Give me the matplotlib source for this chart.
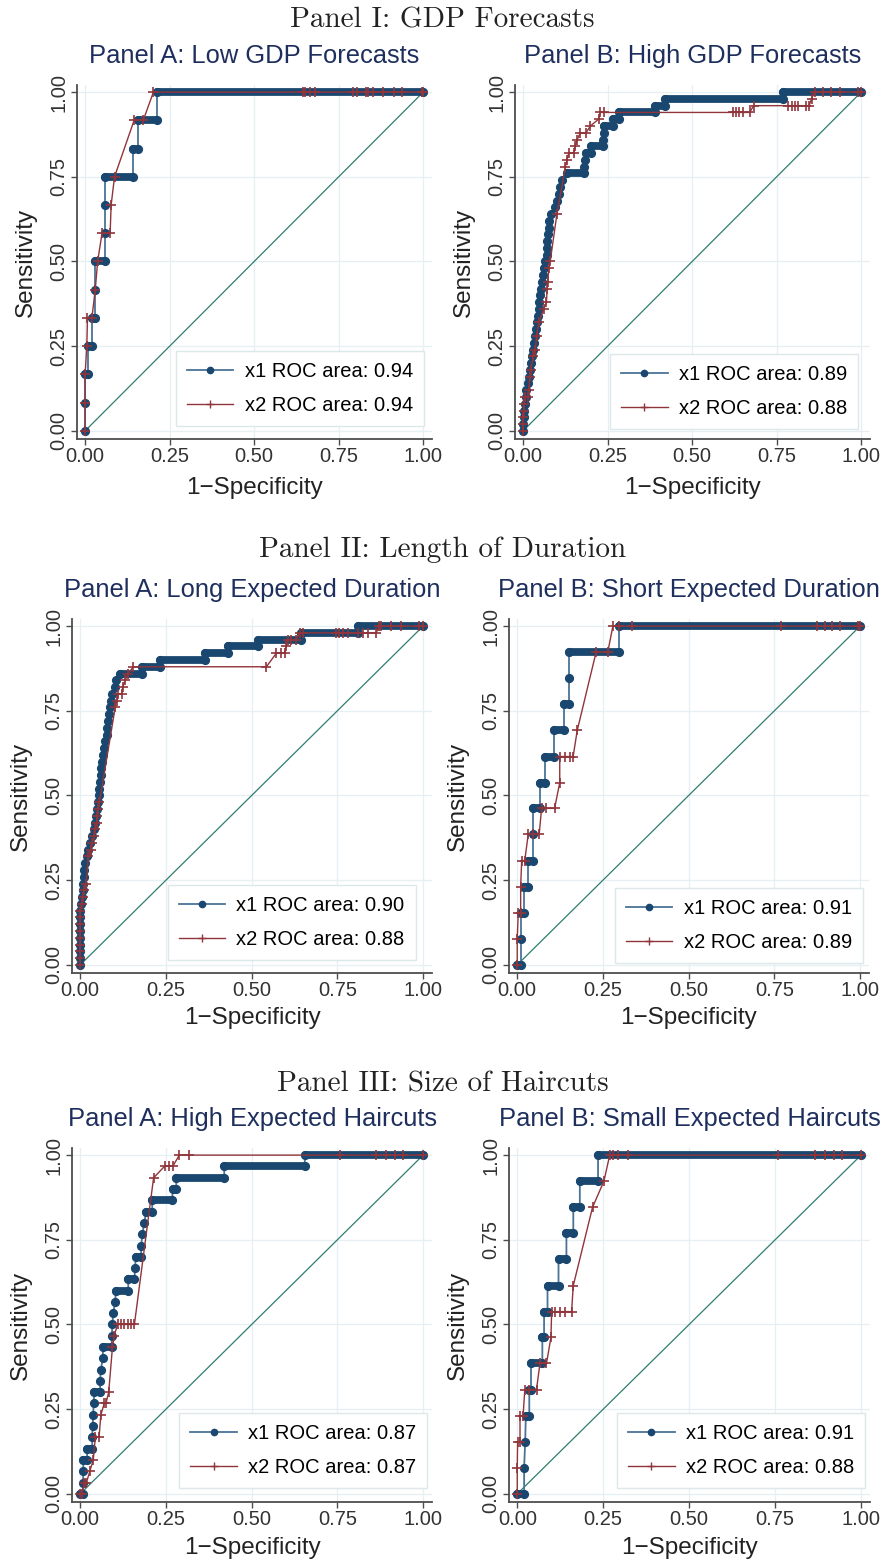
import matplotlib
matplotlib.use("Agg")
import matplotlib.pyplot as plt
from matplotlib.lines import Line2D

NAVY = '#1a476f'
NAVY_LINE = '#4a7396'
MAROON = '#90353b'
REF_C = '#2f7d70'
GRID_C = '#e6eff1'
TITLE_C = '#1e2f5e'
SANS = 'Liberation Sans'

# ---- data (1-specificity, sensitivity) ----
# Panel I A: low GDP forecasts
gdp_low_x1_fpr = [0, 0, 0, 0.008, 0.008, 0.02, 0.02, 0.028, 0.028, 0.028, 0.06, 0.06, 0.06, 0.06,
                  0.142, 0.142, 0.155, 0.155, 0.213, 0.213, 1.0]
gdp_low_x1_tpr = [0, 0.083, 0.167, 0.167, 0.25, 0.25, 0.333, 0.333, 0.417, 0.5, 0.5, 0.583, 0.667, 0.75,
                  0.75, 0.833, 0.833, 0.917, 0.917, 1.0, 1.0]
gdp_low_x2_fpr = [0, 0, 0, 0.005, 0.007, 0.02, 0.03, 0.037, 0.05, 0.074, 0.077, 0.087, 0.145, 0.172, 0.202,
                  0.645, 0.65, 0.665, 0.68, 0.793, 0.803, 0.832, 0.837, 0.852, 0.88, 0.914, 0.936, 0.995, 1.0]
gdp_low_x2_tpr = [0, 0.083, 0.167, 0.25, 0.333, 0.333, 0.417, 0.5, 0.583, 0.583, 0.667, 0.75, 0.917, 0.917, 1.0,
                  1, 1, 1, 1, 1, 1, 1, 1, 1, 1, 1, 1, 1, 1]

# Panel I B: high GDP forecasts
gdp_high_x1_fpr = [0, 0, 0.002, 0.003, 0.006, 0.008, 0.01, 0.013, 0.016, 0.02, 0.022, 0.026, 0.028, 0.031,
                   0.034, 0.038, 0.04, 0.044, 0.046, 0.048, 0.05, 0.053, 0.056, 0.058, 0.061, 0.066, 0.07,
                   0.071, 0.072, 0.073, 0.076, 0.078, 0.082, 0.093, 0.1, 0.105, 0.11, 0.116, 0.13, 0.18,
                   0.18, 0.182, 0.185, 0.2, 0.2, 0.235, 0.237, 0.24, 0.24, 0.265, 0.265, 0.285, 0.285,
                   0.39, 0.39, 0.42, 0.42, 0.77, 0.77, 1.0]
gdp_high_x1_tpr = [0, 0.02, 0.04, 0.06, 0.08, 0.1, 0.12, 0.14, 0.16, 0.18, 0.2, 0.22, 0.24, 0.26,
                   0.28, 0.3, 0.32, 0.34, 0.36, 0.38, 0.4, 0.42, 0.44, 0.46, 0.48, 0.5, 0.52,
                   0.54, 0.56, 0.58, 0.6, 0.62, 0.64, 0.66, 0.68, 0.7, 0.72, 0.74, 0.76, 0.76,
                   0.78, 0.8, 0.82, 0.82, 0.84, 0.84, 0.86, 0.88, 0.9, 0.9, 0.92, 0.92, 0.94,
                   0.94, 0.96, 0.96, 0.98, 0.98, 1.0, 1.0]
gdp_high_x2_fpr = [0, 0, 0, 0.002, 0.003, 0.006, 0.014, 0.016, 0.02, 0.022, 0.03, 0.036, 0.04, 0.046,
                   0.061, 0.069, 0.071, 0.073, 0.076, 0.08, 0.1, 0.125, 0.13, 0.135, 0.15, 0.154, 0.16,
                   0.169, 0.186, 0.199, 0.223, 0.228, 0.238, 0.621, 0.63, 0.64, 0.65, 0.67, 0.682,
                   0.784, 0.795, 0.805, 0.813, 0.838, 0.846, 0.853, 0.862, 0.887, 0.911, 0.936, 0.99, 1.0]
gdp_high_x2_tpr = [0, 0.02, 0.04, 0.06, 0.08, 0.1, 0.1, 0.12, 0.16, 0.18, 0.22, 0.24, 0.28, 0.32,
                   0.36, 0.38, 0.42, 0.44, 0.48, 0.5, 0.64, 0.78, 0.8, 0.82, 0.82, 0.84, 0.86,
                   0.88, 0.88, 0.9, 0.92, 0.94, 0.94, 0.94, 0.94, 0.94, 0.94, 0.94, 0.96,
                   0.96, 0.96, 0.96, 0.96, 0.96, 0.96, 0.98, 1, 1, 1, 1, 1, 1]

# Panel II A: long expected duration
dur_long_x1_fpr = [0, 0, 0, 0, 0, 0, 0, 0, 0, 0.002, 0.005, 0.008, 0.009, 0.01, 0.012, 0.015, 0.021,
                   0.024, 0.029, 0.034, 0.039, 0.044, 0.047, 0.05, 0.053, 0.055, 0.056, 0.058, 0.06,
                   0.062, 0.064, 0.066, 0.068, 0.071, 0.077, 0.079, 0.082, 0.085, 0.087, 0.089, 0.093,
                   0.1, 0.105, 0.116, 0.179, 0.179, 0.233, 0.233, 0.363, 0.363, 0.43, 0.43, 0.518,
                   0.518, 0.644, 0.644, 0.81, 0.81, 1.0]
dur_long_x1_tpr = [0, 0.02, 0.04, 0.06, 0.08, 0.1, 0.12, 0.14, 0.16, 0.18, 0.2, 0.22, 0.24, 0.26, 0.28,
                   0.3, 0.32, 0.34, 0.36, 0.38, 0.4, 0.42, 0.44, 0.46, 0.48, 0.5, 0.52, 0.54, 0.56,
                   0.58, 0.6, 0.62, 0.64, 0.66, 0.68, 0.7, 0.72, 0.74, 0.76, 0.78, 0.8,
                   0.82, 0.84, 0.86, 0.86, 0.88, 0.88, 0.9, 0.9, 0.92, 0.92, 0.94, 0.94,
                   0.96, 0.96, 0.98, 0.98, 1.0, 1.0]
dur_long_x2_fpr = [0, 0, 0, 0, 0, 0, 0, 0, 0, 0.004, 0.008, 0.012, 0.017, 0.024, 0.03, 0.034, 0.04,
                   0.044, 0.048, 0.05, 0.053, 0.056, 0.102, 0.107, 0.111, 0.121, 0.124, 0.131, 0.14,
                   0.155, 0.543, 0.572, 0.586, 0.596, 0.601, 0.606, 0.615, 0.63, 0.64, 0.65, 0.746,
                   0.756, 0.766, 0.781, 0.81, 0.824, 0.839, 0.863, 0.872, 0.877, 0.906, 0.935, 0.988, 1.0]
dur_long_x2_tpr = [0, 0.02, 0.04, 0.06, 0.08, 0.1, 0.12, 0.14, 0.16, 0.18, 0.2, 0.22, 0.24, 0.32, 0.34,
                   0.36, 0.38, 0.4, 0.42, 0.44, 0.46, 0.48, 0.76, 0.78, 0.8, 0.8, 0.82, 0.84, 0.86,
                   0.88, 0.88, 0.92, 0.92, 0.92, 0.94, 0.96, 0.96, 0.96, 0.98, 0.98, 0.98,
                   0.98, 0.98, 0.98, 0.98, 0.98, 0.98, 0.98, 1, 1, 1, 1, 1, 1]

# Panel II B: short expected duration
dur_short_x1_fpr = [0, 0.012, 0.012, 0.012, 0.02, 0.02, 0.03, 0.03, 0.045, 0.045, 0.045, 0.065, 0.065,
                    0.08, 0.08, 0.107, 0.107, 0.135, 0.135, 0.15, 0.15, 0.15, 0.298, 0.298, 1.0]
dur_short_x1_tpr = [0, 0, 0.077, 0.154, 0.154, 0.231, 0.231, 0.308, 0.308, 0.385, 0.462, 0.462, 0.538,
                    0.538, 0.615, 0.615, 0.692, 0.692, 0.769, 0.769, 0.846, 0.923, 0.923, 1.0, 1.0]
dur_short_x2_fpr = [0, 0, 0.003, 0.01, 0.01, 0.013, 0.022, 0.032, 0.046, 0.064, 0.071, 0.085, 0.109,
                    0.124, 0.124, 0.138, 0.153, 0.163, 0.175, 0.23, 0.264, 0.279, 0.298, 0.335, 0.768,
                    0.874, 0.898, 0.917, 0.942, 0.995, 1.0]
dur_short_x2_tpr = [0, 0.077, 0.154, 0.154, 0.231, 0.308, 0.308, 0.385, 0.385, 0.385, 0.462, 0.462, 0.462,
                    0.538, 0.615, 0.615, 0.615, 0.615, 0.692, 0.923, 0.923, 1, 1, 1, 1,
                    1, 1, 1, 1, 1, 1]

# Panel III A: high expected haircuts
hc_high_x1_fpr = [0, 0.008, 0.008, 0.009, 0.009, 0.02, 0.02, 0.035, 0.035, 0.036, 0.038, 0.039, 0.041,
                  0.058, 0.058, 0.06, 0.066, 0.066, 0.092, 0.092, 0.094, 0.096, 0.102, 0.104, 0.14,
                  0.14, 0.158, 0.16, 0.162, 0.177, 0.178, 0.181, 0.187, 0.192, 0.21, 0.21, 0.268,
                  0.27, 0.28, 0.28, 0.42, 0.42, 0.655, 0.655, 1.0]
hc_high_x1_tpr = [0, 0, 0.033, 0.067, 0.1, 0.1, 0.133, 0.133, 0.167, 0.2, 0.233, 0.267, 0.3,
                  0.3, 0.333, 0.367, 0.4, 0.433, 0.433, 0.467, 0.5, 0.533, 0.567, 0.6, 0.6,
                  0.633, 0.633, 0.667, 0.7, 0.7, 0.733, 0.767, 0.8, 0.833, 0.833, 0.867, 0.867,
                  0.9, 0.9, 0.933, 0.933, 0.967, 0.967, 1.0, 1.0]
hc_high_x2_fpr = [0, 0.005, 0.012, 0.018, 0.028, 0.038, 0.044, 0.055, 0.06, 0.07, 0.075, 0.083, 0.094,
                  0.099, 0.109, 0.119, 0.129, 0.139, 0.148, 0.158, 0.214, 0.246, 0.26, 0.27, 0.289,
                  0.318, 0.757, 0.864, 0.893, 0.917, 0.942, 1.0]
hc_high_x2_tpr = [0, 0, 0.033, 0.033, 0.067, 0.1, 0.167, 0.167, 0.233, 0.267, 0.267, 0.3, 0.433,
                  0.467, 0.5, 0.5, 0.5, 0.5, 0.5, 0.5, 0.933, 0.967, 0.967, 0.967, 1,
                  1, 1, 1, 1, 1, 1, 1]

# Panel III B: small expected haircuts
hc_small_x1_fpr = [0, 0.02, 0.02, 0.023, 0.025, 0.035, 0.035, 0.04, 0.04, 0.073, 0.073, 0.078, 0.078,
                   0.088, 0.088, 0.12, 0.12, 0.143, 0.143, 0.163, 0.163, 0.182, 0.182, 0.235, 0.235, 1.0]
hc_small_x1_tpr = [0, 0, 0.077, 0.154, 0.231, 0.231, 0.308, 0.308, 0.385, 0.385, 0.462, 0.462, 0.538,
                   0.538, 0.615, 0.615, 0.692, 0.692, 0.769, 0.769, 0.846, 0.846, 0.923, 0.923, 1.0, 1.0]
hc_small_x2_fpr = [0, 0, 0.001, 0.008, 0.008, 0.017, 0.022, 0.035, 0.056, 0.066, 0.085, 0.098, 0.1,
                   0.109, 0.124, 0.138, 0.158, 0.163, 0.219, 0.252, 0.269, 0.279, 0.293, 0.322, 0.758,
                   0.867, 0.896, 0.922, 0.945, 1.0]
hc_small_x2_tpr = [0, 0.077, 0.154, 0.154, 0.231, 0.231, 0.308, 0.308, 0.308, 0.385, 0.385, 0.462, 0.538,
                   0.538, 0.538, 0.538, 0.538, 0.615, 0.846, 0.923, 1, 1, 1, 1, 1,
                   1, 1, 1, 1, 1]

titles = ['Panel A: Low GDP Forecasts', 'Panel B: High GDP Forecasts',
          'Panel A: Long Expected Duration', 'Panel B: Short Expected Duration',
          'Panel A: High Expected Haircuts', 'Panel B: Small Expected Haircuts']
x1_areas = ['0.94', '0.89', '0.90', '0.91', '0.87', '0.91']
x2_areas = ['0.94', '0.88', '0.88', '0.89', '0.87', '0.88']
headers = ['Panel I: GDP Forecasts', 'Panel II: Length of Duration', 'Panel III: Size of Haircuts']
tick_vals = [0, 0.25, 0.5, 0.75, 1.0]
tick_labels = ['0.00', '0.25', '0.50', '0.75', '1.00']

curves = [
    (gdp_low_x1_fpr, gdp_low_x1_tpr, gdp_low_x2_fpr, gdp_low_x2_tpr),
    (gdp_high_x1_fpr, gdp_high_x1_tpr, gdp_high_x2_fpr, gdp_high_x2_tpr),
    (dur_long_x1_fpr, dur_long_x1_tpr, dur_long_x2_fpr, dur_long_x2_tpr),
    (dur_short_x1_fpr, dur_short_x1_tpr, dur_short_x2_fpr, dur_short_x2_tpr),
    (hc_high_x1_fpr, hc_high_x1_tpr, hc_high_x2_fpr, hc_high_x2_tpr),
    (hc_small_x1_fpr, hc_small_x1_tpr, hc_small_x2_fpr, hc_small_x2_tpr),
]

# ---- layout in pixels ----
W, H = 885, 1564
# left, top, width, height of each plot region
rects = [(77, 85, 355, 354), (515, 85, 355, 354),
         (72, 619, 360, 354), (509, 619, 360, 354),
         (72, 1148, 360, 354), (509, 1148, 361, 354)]
legend_anchor = [(0.977, 0.037), (0.966, 0.028), (0.955, 0.037),
                 (0.983, 0.028), (0.986, 0.040), (0.986, 0.040)]
xlabel_gap = [38, 38, 34, 34, 35, 35]
header_base = [28, 557, 1091]

fig = plt.figure(figsize=(W / 100, H / 100), dpi=100)
fig.patch.set_facecolor('white')

for k, (fpr1, tpr1, fpr2, tpr2) in enumerate(curves):
    l, t, w, h = rects[k]
    ax = fig.add_axes([l / W, 1 - (t + h) / H, w / W, h / H])

    ax.plot([0, 1], [0, 1], color=REF_C, lw=0.9, zorder=2)

    # x1: connecting line, dense marker runs along flat stretches, then markers
    ax.plot(fpr1, tpr1, color=NAVY_LINE, lw=1.3, zorder=3)
    for i in range(len(fpr1) - 1):
        if tpr1[i] == tpr1[i + 1] and fpr1[i] != fpr1[i + 1]:
            ax.plot(fpr1[i:i + 2], tpr1[i:i + 2], color=NAVY, lw=5.6,
                    solid_capstyle='round', zorder=3)
    ax.plot(fpr1, tpr1, ls='none', marker='o', ms=5.6, color=NAVY, mec=NAVY, zorder=3)

    ax.plot(fpr2, tpr2, color=MAROON, lw=1.0, marker='+', ms=7, mew=1.2, zorder=4)

    ax.set_xlim(-0.024, 1.026)
    ax.set_ylim(-0.024, 1.021)
    ax.set_xticks(tick_vals)
    ax.set_xticklabels(tick_labels)
    ax.set_yticks(tick_vals)
    ax.set_yticklabels(tick_labels)
    ax.tick_params(axis='both', length=4, width=1, color='#4d4d4d', pad=2,
                   labelsize=14.5, labelcolor='#333333')
    ax.tick_params(axis='y', labelrotation=90)
    for lbl in ax.get_yticklabels():
        lbl.set_va('center')
        lbl.set_family(SANS)
    for lbl in ax.get_xticklabels():
        lbl.set_family(SANS)

    ax.grid(True, color=GRID_C, lw=0.9)
    ax.set_axisbelow(True)
    for side in ('top', 'right'):
        ax.spines[side].set_visible(False)
    for side in ('left', 'bottom'):
        ax.spines[side].set_color('#4d4d4d')
        ax.spines[side].set_linewidth(1.3)

    ax.set_ylabel('Sensitivity', fontsize=17.5, family=SANS, color='#222222')
    ax.yaxis.set_label_coords(-40 / w, 0.5)
    ax.set_xlabel('1\u2212Specificity', fontsize=17.5, family=SANS, color='#222222')
    ax.xaxis.set_label_coords(0.5, -xlabel_gap[k] / h)

    ax.text(0.5, 1 + 22 / h, titles[k], transform=ax.transAxes, ha='center',
            va='baseline', fontsize=18.4, family=SANS, color=TITLE_C)

    handles = [Line2D([], [], color=NAVY_LINE, lw=1.3, marker='o', ms=4.5, mfc=NAVY, mec=NAVY),
               Line2D([], [], color=MAROON, lw=1.0, marker='+', ms=6, mew=1)]
    labels = ['x1 ROC area: ' + x1_areas[k], 'x2 ROC area: ' + x2_areas[k]]
    leg = ax.legend(handles, labels, loc='lower right', bbox_to_anchor=legend_anchor[k],
                    borderaxespad=0, fancybox=False, framealpha=1, edgecolor='#dde8ea',
                    prop={'family': SANS, 'size': 14.5}, handlelength=2.3,
                    handletextpad=0.55, borderpad=0.55, labelspacing=0.75)
    leg.get_frame().set_linewidth(1.0)
    leg.set_zorder(5)

for r, txt in enumerate(headers):
    fig.text(0.5, 1 - header_base[r] / H, txt, ha='center', va='baseline',
             family='cmr10', fontsize=21, color='#222222')

fig.savefig('out.png', dpi=100)
